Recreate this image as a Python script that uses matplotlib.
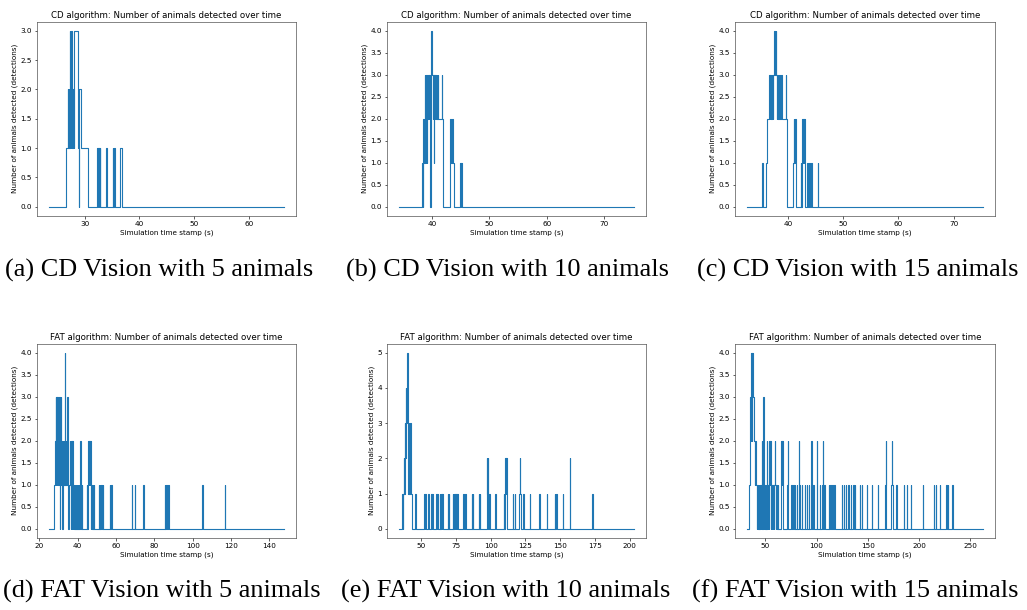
import numpy as np
import matplotlib.pyplot as plt

# (time stamp s, animals detected) change points for every run
cd5 = [(23.4, 0), (26.6, 1), (26.85, 2), (26.95, 1), (27.05, 2), (27.15, 1), (27.25, 3), (27.35, 2),
       (27.4, 1), (27.5, 3), (27.6, 2), (27.65, 1), (27.75, 2), (27.8, 1), (27.9, 2), (27.95, 1),
       (28.05, 3), (28.75, 1), (28.9, 0), (29.0, 2), (29.25, 1), (30.6, 0), (32.3, 1), (32.4, 0),
       (32.45, 1), (32.55, 0), (32.6, 1), (32.7, 0), (32.75, 1), (32.85, 0), (33.9, 1), (34.0, 0),
       (35.1, 1), (35.2, 0), (35.3, 1), (35.45, 0), (36.4, 1), (36.85, 0), (66.5, 0)]

cd10 = [(34.2, 0), (38.2, 1), (38.35, 0), (38.4, 1), (38.5, 2), (38.6, 1), (38.7, 3), (38.8, 2),
        (38.9, 1), (39.0, 3), (39.1, 1), (39.2, 2), (39.3, 3), (39.4, 2), (39.5, 3), (39.6, 2),
        (39.7, 0), (39.8, 2), (39.9, 4), (40.0, 3), (40.1, 2), (40.2, 3), (40.3, 1), (40.4, 3),
        (40.5, 2), (40.6, 3), (40.7, 2), (40.8, 3), (40.9, 2), (41.0, 3), (41.1, 2), (41.7, 3),
        (41.8, 2), (41.9, 0), (43.2, 2), (43.35, 1), (43.45, 2), (43.6, 1), (43.75, 0), (44.9, 1),
        (45.0, 0), (45.05, 1), (45.2, 0), (75.25, 0)]

cd15 = [(32.6, 0), (35.4, 1), (35.5, 0), (36.1, 1), (36.3, 2), (36.6, 3), (36.7, 2), (36.8, 3),
        (37.0, 2), (37.1, 3), (37.3, 2), (37.4, 3), (37.5, 4), (37.7, 3), (37.8, 4), (37.9, 3),
        (38.0, 2), (38.1, 3), (38.3, 2), (38.4, 3), (38.6, 2), (38.7, 3), (38.9, 2), (39.6, 3),
        (39.7, 2), (39.9, 0), (41.0, 1), (41.1, 2), (41.2, 1), (41.3, 2), (41.4, 0), (42.3, 1),
        (42.4, 0), (42.5, 1), (42.6, 2), (42.7, 1), (42.8, 2), (42.9, 1), (43.0, 2), (43.1, 1),
        (43.2, 0), (43.5, 1), (43.6, 0), (43.8, 1), (44.0, 0), (44.2, 1), (44.4, 0), (45.4, 1),
        (45.5, 0), (75.3, 0)]

fat5 = [(24.9, 0), (27.8, 1), (28.3, 2), (28.5, 3), (28.7, 1), (28.8, 3), (29.0, 2), (29.1, 3),
        (29.3, 1), (29.4, 3), (29.6, 2), (29.7, 3), (29.9, 1), (30.0, 3), (30.2, 2), (30.3, 3),
        (30.5, 1), (30.6, 2), (30.8, 0), (30.9, 2), (31.1, 1), (31.3, 3), (31.4, 1), (31.6, 2),
        (31.8, 1), (32.0, 0), (32.1, 1), (32.3, 2), (32.5, 1), (32.7, 2), (33.0, 1), (33.2, 4),
        (33.35, 2), (33.6, 1), (33.8, 2), (34.0, 1), (34.2, 2), (34.5, 3), (34.7, 2), (34.9, 1),
        (35.1, 0), (35.3, 1), (35.5, 0), (35.7, 1), (35.9, 2), (36.1, 1), (36.3, 0), (36.5, 1),
        (36.7, 2), (36.9, 0), (37.1, 2), (37.3, 1), (37.5, 0), (37.7, 1), (37.9, 0), (38.1, 1),
        (38.3, 0), (38.5, 1), (38.7, 0), (38.9, 1), (39.1, 0), (39.4, 1), (39.6, 0), (39.9, 1),
        (40.1, 0), (40.5, 1), (40.7, 0), (41.0, 1), (41.3, 2), (41.6, 1), (41.8, 0), (42.1, 1),
        (42.4, 0), (44.9, 1), (45.1, 0), (45.3, 1), (45.6, 2), (45.9, 1), (46.1, 2), (46.4, 1),
        (46.6, 2), (46.9, 0), (47.1, 1), (47.3, 0), (47.5, 1), (47.7, 0), (47.9, 1), (48.2, 0),
        (48.4, 1), (48.6, 0), (51.0, 1), (51.3, 0), (51.6, 1), (51.9, 0), (52.4, 1), (52.6, 0),
        (53.0, 1), (53.2, 0), (56.8, 1), (57.0, 0), (57.5, 1), (57.8, 0), (68.3, 1), (68.6, 0),
        (69.8, 1), (70.1, 0), (74.2, 1), (74.5, 0), (85.5, 1), (85.8, 0), (86.2, 1), (86.4, 0),
        (87.3, 1), (87.6, 0), (105.0, 1), (105.3, 0), (116.8, 1), (117.1, 0), (147.8, 0)]

fat10 = [(33.9, 0), (36.3, 1), (36.9, 0), (37.2, 1), (37.5, 2), (37.9, 1), (38.2, 3), (38.6, 2),
         (38.9, 4), (39.3, 3), (39.7, 5), (40.4, 3), (40.8, 1), (41.1, 3), (41.4, 1), (41.7, 3),
         (42.0, 1), (42.3, 3), (42.7, 1), (43.2, 0), (45.6, 1), (46.0, 0), (46.3, 1), (46.6, 0),
         (52.3, 1), (52.7, 0), (53.1, 1), (53.5, 0), (55.0, 1), (55.4, 0), (57.1, 1), (57.5, 0),
         (57.9, 1), (58.3, 0), (60.7, 1), (61.1, 0), (61.5, 1), (61.9, 0), (63.4, 1), (63.8, 0),
         (64.3, 1), (64.7, 0), (65.1, 1), (65.5, 0), (69.1, 1), (69.5, 0), (69.9, 1), (70.3, 0),
         (72.7, 1), (73.1, 0), (73.6, 1), (74.0, 0), (74.5, 1), (74.9, 0), (75.4, 1), (75.8, 0),
         (76.0, 1), (76.3, 0), (80.1, 1), (80.5, 0), (81.8, 1), (82.2, 0), (86.3, 1), (86.7, 0),
         (87.1, 1), (87.5, 0), (91.3, 1), (91.7, 0), (92.0, 1), (92.3, 0), (97.3, 2), (97.6, 1),
         (97.9, 2), (98.2, 0), (99.0, 1), (99.4, 0), (103.3, 1), (103.7, 0), (109.4, 1), (109.8, 0),
         (110.2, 1), (110.5, 2), (110.9, 1), (111.3, 2), (111.7, 0), (115.8, 1), (116.2, 0),
         (117.4, 1), (117.8, 0), (120.5, 1), (120.8, 2), (121.4, 1), (121.7, 0), (123.4, 1),
         (123.8, 0), (128.0, 1), (128.4, 0), (135.0, 1), (135.4, 0), (140.2, 1), (140.6, 0),
         (146.0, 1), (146.4, 0), (147.2, 1), (147.6, 0), (151.8, 1), (152.2, 0), (157.0, 2),
         (157.4, 0), (173.2, 1), (173.6, 0), (203.3, 0)]

fat15 = [(32.1, 0), (34.3, 1), (35.0, 2), (35.3, 1), (35.6, 3), (35.9, 2), (36.2, 3), (36.5, 4),
         (36.8, 3), (37.0, 4), (37.3, 2), (37.5, 4), (37.8, 3), (38.1, 4), (38.5, 3), (38.8, 2),
         (39.1, 3), (39.5, 2), (39.8, 1), (40.2, 2), (40.6, 1), (41.0, 2), (41.4, 1), (41.8, 0),
         (42.2, 1), (42.6, 0), (44.0, 1), (44.4, 0), (45.2, 1), (45.6, 0), (46.3, 1), (46.6, 2),
         (46.9, 1), (47.3, 0), (47.6, 1), (48.0, 3), (48.4, 1), (48.8, 0), (49.2, 1), (49.5, 0),
         (49.9, 1), (50.3, 0), (50.7, 1), (51.0, 0), (51.4, 1), (51.8, 2), (52.2, 1), (52.5, 0),
         (52.9, 1), (53.3, 0), (53.7, 1), (54.1, 2), (54.5, 1), (54.9, 2), (55.3, 1), (55.7, 0),
         (56.1, 1), (56.5, 0), (57.0, 1), (57.4, 0), (58.0, 1), (58.4, 0), (59.0, 1), (59.4, 2),
         (59.8, 1), (60.2, 0), (61.0, 1), (61.4, 0), (62.2, 1), (62.6, 0), (65.4, 1), (65.8, 2),
         (66.2, 1), (66.6, 2), (67.0, 1), (67.4, 0), (71.5, 1), (71.9, 2), (72.3, 0), (75.5, 1),
         (75.9, 0), (77.4, 1), (77.8, 0), (79.0, 1), (79.4, 0), (80.7, 1), (81.1, 0), (82.5, 1),
         (82.9, 2), (83.3, 1), (83.7, 0), (85.6, 1), (86.0, 0), (88.8, 1), (89.2, 0), (90.4, 1),
         (90.8, 0), (92.6, 1), (93.0, 0), (94.4, 1), (94.8, 2), (95.2, 1), (95.6, 0), (96.8, 1),
         (97.2, 0), (100.0, 1), (100.4, 2), (100.8, 0), (103.0, 1), (103.4, 0), (105.5, 1),
         (105.9, 2), (106.3, 1), (106.7, 0), (107.5, 1), (107.9, 0), (112.0, 1), (112.4, 0),
         (113.5, 1), (113.9, 0), (115.3, 1), (115.7, 0), (117.5, 1), (117.9, 0), (124.5, 1),
         (124.9, 0), (126.8, 1), (127.2, 0), (128.8, 1), (129.2, 0), (131.0, 1), (131.4, 0),
         (133.2, 1), (133.6, 0), (136.0, 1), (136.4, 0), (137.5, 1), (137.9, 0), (142.2, 1),
         (142.6, 0), (143.9, 1), (144.3, 0), (148.8, 1), (149.2, 0), (153.8, 1), (154.2, 0),
         (159.7, 1), (160.1, 0), (166.9, 1), (167.3, 2), (167.7, 1), (168.1, 0), (173.0, 1),
         (173.4, 2), (173.8, 1), (174.2, 0), (177.8, 1), (178.2, 0), (185.0, 1), (185.4, 0),
         (188.2, 1), (188.6, 0), (191.6, 1), (192.0, 0), (203.4, 1), (203.8, 0), (214.5, 1),
         (214.9, 0), (216.5, 1), (216.9, 0), (220.4, 1), (220.8, 0), (226.3, 1), (226.7, 0),
         (228.0, 1), (228.4, 0), (232.5, 1), (232.9, 0), (262.4, 0)]

algorithms = ['CD', 'CD', 'CD', 'FAT', 'FAT', 'FAT']
captions = ['(a) CD Vision with 5 animals', '(b) CD Vision with 10 animals',
            '(c) CD Vision with 15 animals', '(d) FAT Vision with 5 animals',
            '(e) FAT Vision with 10 animals', '(f) FAT Vision with 15 animals']
runs = [cd5, cd10, cd15, fat5, fat10, fat15]

W, H = 1027, 610
fig = plt.figure(figsize=(W / 100, H / 100), dpi=100)

# axes boxes in pixels: left, top, width, height
lefts = [37, 387, 735]
widths = [259, 259, 260]
tops = [22, 344]
ax_h = 193.5
caption_x = [[159, 508, 858], [162, 506, 855]]
caption_y = [270, 591]

for i, run in enumerate(runs):
    row, col = divmod(i, 3)
    x0 = lefts[col] / W
    y0 = 1 - (tops[row] + ax_h) / H
    ax = fig.add_axes([x0, y0, widths[col] / W, ax_h / H])

    t, n = np.array(run).T
    ax.plot(t, n, drawstyle='steps-post', color='#1f77b4', lw=0.8)

    ax.set_title(f'{algorithms[i]} algorithm: Number of animals detected over time',
                 fontsize=6.2, pad=3.2)
    ax.set_xlabel('Simulation time stamp (s)', fontsize=5.2, labelpad=2)
    ax.set_ylabel('Number of animals detected (detections)', fontsize=5.2, labelpad=2)
    ax.tick_params(labelsize=5.2, length=1.8, width=0.45, pad=1.8)
    for s in ax.spines.values():
        s.set_linewidth(0.45)
        s.set_color('0.25')

    fig.text(caption_x[row][col] / W, 1 - caption_y[row] / H, captions[i],
             ha='center', va='center', family='Liberation Serif', fontsize=18.9)

fig.savefig('out.png', dpi=100)
